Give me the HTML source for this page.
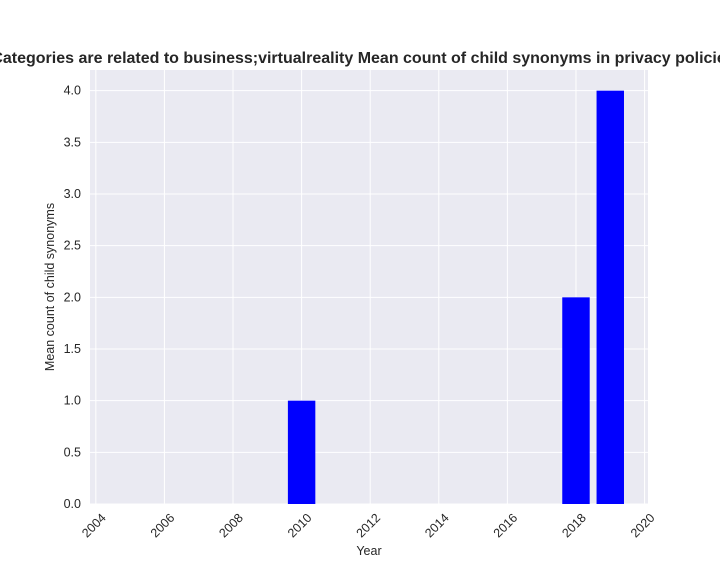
<!DOCTYPE html>
<html><head><meta charset="utf-8"><style>
body{margin:0;background:#fff;width:720px;height:576px;overflow:hidden;font-family:"Liberation Sans","DejaVu Sans",sans-serif;}
</style></head><body>
<svg id="chart" width="720" height="576" xmlns="http://www.w3.org/2000/svg"></svg>
<script>
const years = [2010, 2018, 2019];
const values = [1, 2, 4];
const xTicks = [2004, 2006, 2008, 2010, 2012, 2014, 2016, 2018, 2020];
const yTicks = [0, 0.5, 1, 1.5, 2, 2.5, 3, 3.5, 4];

const L = 90, R = 648, T = 70, B = 504;
const xMin = 2003.83, xMax = 2020.1, yMin = 0, yMax = 4.2;
const sx = v => L + (v - xMin) / (xMax - xMin) * (R - L);
const sy = v => B - (v - yMin) / (yMax - yMin) * (B - T);
const svg = document.getElementById('chart');
const NS = 'http://www.w3.org/2000/svg';
function mk(tag, attrs, text) {
  const e = document.createElementNS(NS, tag);
  for (const k in attrs) e.setAttribute(k, attrs[k]);
  if (text !== undefined) e.textContent = text;
  svg.appendChild(e);
  return e;
}
const bg = mk('rect', {x: L, y: T, width: R - L, height: B - T, fill: '#eaeaf2'});


xTicks.forEach(t => {
  const g = mk('line', {x1: sx(t), x2: sx(t), y1: T, y2: B, stroke: '#fff', 'stroke-width': 1});
  
  
  const x = sx(t) + 2, y = 515;
  const lab = mk('text', {x: x, y: y, 'font-size': 12.5, fill: '#262626', 'text-anchor': 'end', transform: `rotate(-45 ${x} ${y})`, dy: '0.7em', dx: '0.3em'}, String(t));
  
  
});
yTicks.forEach(t => {
  const g = mk('line', {x1: L, x2: R, y1: sy(t), y2: sy(t), stroke: '#fff', 'stroke-width': 1});
  
  
  const lab = mk('text', {x: L - 9, y: sy(t) + 4, 'font-size': 12.5, fill: '#262626', 'text-anchor': 'end'}, t.toFixed(1));
  
  
});
years.forEach((yr, i) => {
  const w = sx(yr + 0.4) - sx(yr - 0.4);
  const b = mk('rect', {x: sx(yr - 0.4), y: sy(values[i]), width: w, height: sy(0) - sy(values[i]), fill: '#0000ff'});
  
  
});
const xt = mk('text', {x: (L + R) / 2, y: 555, 'font-size': 12.5, fill: '#262626', 'text-anchor': 'middle'}, 'Year');


const yt = mk('text', {x: 54, y: (T + B) / 2, 'font-size': 12.5, fill: '#262626', 'text-anchor': 'middle', transform: `rotate(-90 54 ${(T + B) / 2})`}, 'Mean count of child synonyms');


const title = mk('text', {x: 363, y: 63, 'font-size': 16, 'font-weight': 'bold', fill: '#262626', 'text-anchor': 'middle'}, 'Categories are related to business;virtualreality Mean count of child synonyms in privacy policies');


</script>
</body></html>
